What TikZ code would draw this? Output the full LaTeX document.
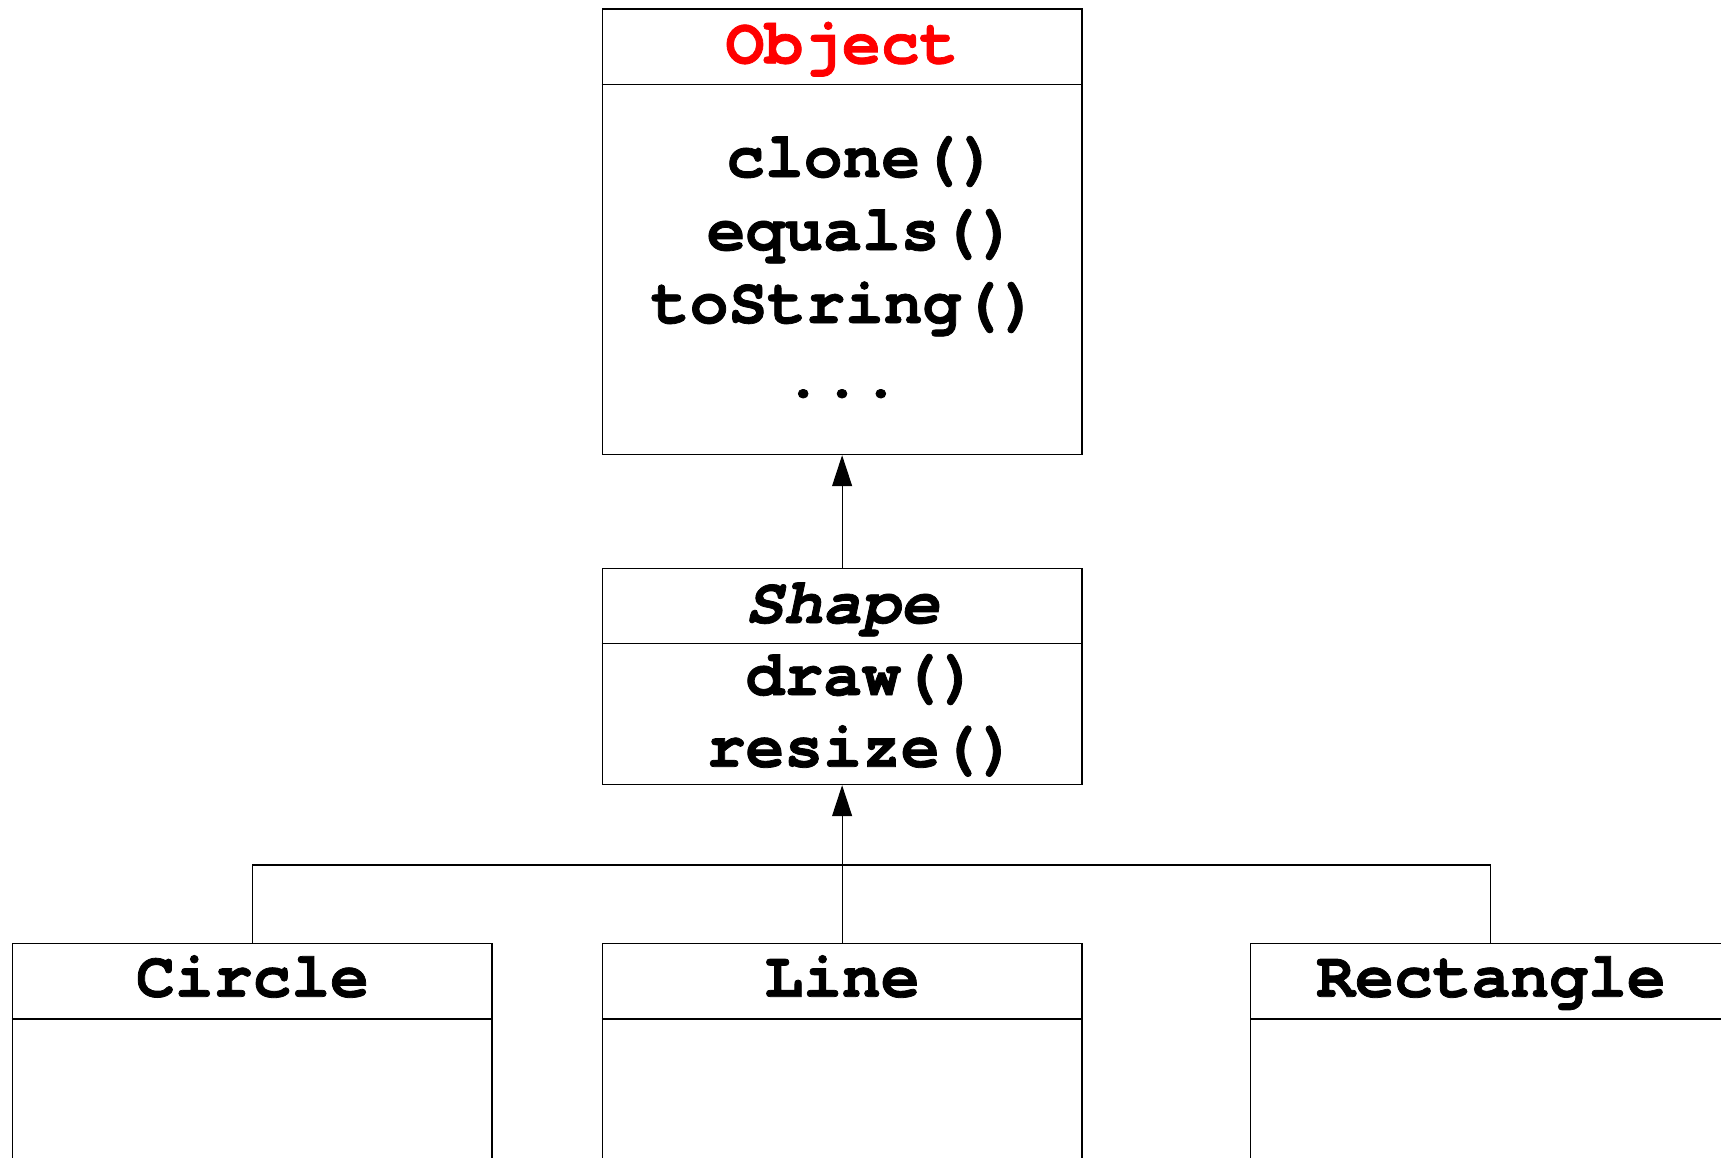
\documentclass[tikz,border=0pt]{standalone}
\usepackage{fontspec}
\setmonofont[BoldFeatures={FakeBold=1.2}, BoldItalicFeatures={FakeBold=1.2}]{TeX Gyre Cursor}
\usetikzlibrary{arrows.meta}
\definecolor{titlered}{RGB}{255,0,0}
\tikzset{
  classbox/.style={draw=black, line width=1.2pt, minimum width=479.6pt, anchor=north west, inner sep=0pt},
  divider/.style={draw=black, line width=1.2pt},
  label/.style={font=\fontsize{64.7}{73}\ttfamily\bfseries, anchor=base, inner sep=0pt},
  conn/.style={draw=black, line width=1.1pt},
  inherit/.style={conn, -{Triangle[length=31pt, width=20pt]}},
}
\begin{document}
\begin{tikzpicture}[x=1pt, y=-1pt]
  \useasboundingbox (0,0) rectangle (1721,1157);
  \clip (0,0) rectangle (1721,1157);

  % class boxes
  \node[classbox, minimum height=445.7pt] (object) at (601.7,8.3) {};
  \node[classbox, minimum height=216.3pt] (shape) at (601.7,567.7) {};
  \node[classbox, minimum height=300pt] (circle) at (11.7,942.7) {};
  \node[classbox, minimum height=300pt] (line) at (601.7,942.7) {};
  \node[classbox, minimum height=300pt] (rect) at (1250,942.7) {};

  % compartment dividers
  \draw[divider] (object.west |- 0,84.3) -- (object.east |- 0,84.3);
  \draw[divider] (shape.west |- 0,643.3) -- (shape.east |- 0,643.3);
  \draw[divider] (circle.west |- 0,1019) -- (circle.east |- 0,1019);
  \draw[divider] (line.west |- 0,1019) -- (line.east |- 0,1019);
  \draw[divider] (rect.west |- 0,1019) -- (rect.east |- 0,1019);

  % class names
  \node[label, text=titlered] (objname) at (842,63.3) {Object};
  \node[label, font=\fontsize{64.7}{73}\ttfamily\bfseries\itshape] (shapename) at (842,623) {Shape};
  \node[label] (circlename) at (252.5,996.7) {Circle};
  \node[label] (linename) at (842,996.7) {Line};
  \node[label] (rectname) at (1491,996.7) {Rectangle};

  % operations
  \node[label] (m1) at (862,177) {clone()};
  \node[label] (m2) at (862,250) {equals()};
  \node[label] (m3) at (845,323) {toString()};
  \node[label] (m4) at (842,397) {...};
  \node[label] (m5) at (862,695) {draw()};
  \node[label] (m6) at (862,766.7) {resize()};

  % generalisation connectors
  \coordinate (bus) at (841.5,865);
  \draw[inherit] (shape.north) -- (object.south);
  \draw[inherit] (line.north) -- (shape.south);
  \draw[conn] (circle.north) |- (bus) -| (rect.north);
\end{tikzpicture}
\end{document}
